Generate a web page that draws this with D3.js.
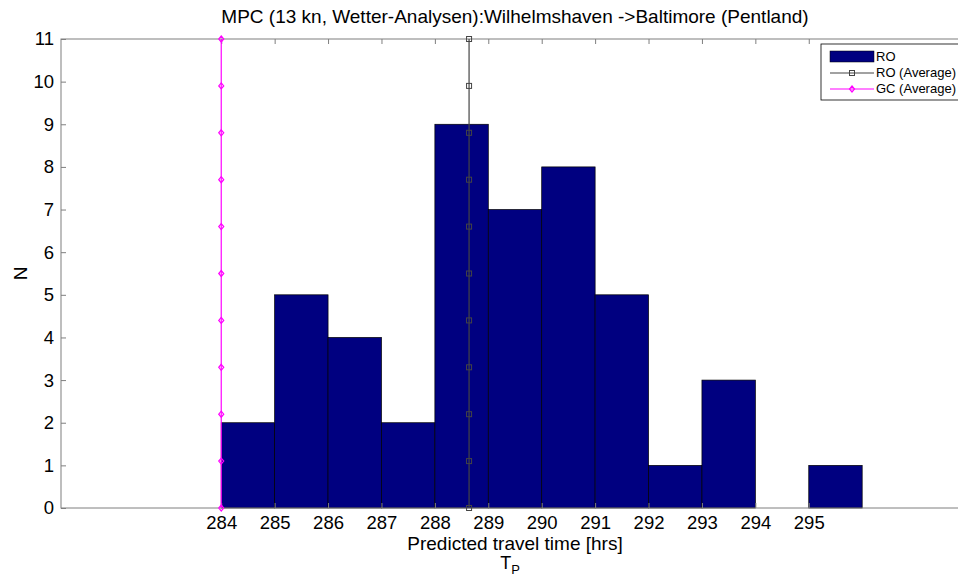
<!DOCTYPE html>
<html><head><meta charset="utf-8">
<script src="https://cdn.jsdelivr.net/npm/d3@7"></script>
<style>body{margin:0;background:#fff;}svg{display:block;font-family:"Liberation Sans",Arial,sans-serif;}</style>
</head><body>
<script>
// Data
const binStarts = [284,285,286,287,288,289,290,291,292,293,294,295];
const counts    = [2,5,4,2,9,7,8,5,1,3,0,1];
const xTicks = [284,285,286,287,288,289,290,291,292,293,294,295];
const yTicks = [0,1,2,3,4,5,6,7,8,9,10,11];
const roAverage = 288.64;
const gcAverage = 284.0;
const avgMarkerY = [0,1.1,2.2,3.3,4.4,5.5,6.6,7.7,8.8,9.9,11];
const legendLabels = ["RO","RO (Average)","GC (Average)"];
const title = "MPC (13 kn, Wetter-Analysen):Wilhelmshaven ->Baltimore (Pentland)";

const W=958,H=577;
const m={l:61,t:39,r:969,b:508};
const svg=d3.select("body").append("svg").attr("width",W).attr("height",H);
const x=d3.scaleLinear().domain([281,298]).range([m.l,m.r]);
const y=d3.scaleLinear().domain([0,11]).range([m.b,m.t]);
const axisColor="#7f7f7f";

// bars
svg.append("g").selectAll("rect").data(binStarts.map((s,i)=>({s,c:counts[i]})).filter(d=>d.c>0))
 .join("rect")
 .attr("x",d=>x(d.s)).attr("y",d=>y(d.c))
 .attr("width",d=>x(d.s+1)-x(d.s)).attr("height",d=>y(0)-y(d.c))
 .attr("fill","#000080").attr("stroke","#000").attr("stroke-width",0.7);

// axes frame
svg.append("rect").attr("x",m.l).attr("y",m.t).attr("width",m.r-m.l).attr("height",m.b-m.t)
 .attr("fill","none").attr("stroke",axisColor).attr("stroke-width",1);

const xb=d3.axisBottom(x).tickValues(xTicks).tickSize(-5).tickPadding(8).tickFormat(d3.format("d"));
const xt=d3.axisTop(x).tickValues(xTicks).tickSize(-5).tickFormat("");
const yl=d3.axisLeft(y).tickValues(yTicks).tickSize(-5).tickPadding(7).tickFormat(d3.format("d"));
function style(sel){sel.select(".domain").remove();sel.selectAll(".tick line").attr("stroke",axisColor);
 sel.selectAll("text").attr("fill","#000").style("font-size","18.5px").style("font-family","'Liberation Sans',Arial,sans-serif");}
svg.append("g").attr("transform",`translate(0,${m.b})`).call(xb).call(style);
svg.append("g").attr("transform",`translate(0,${m.t})`).call(xt).call(style);
svg.append("g").attr("transform",`translate(${m.l},0)`).call(yl).call(style);

// average lines
function avgLine(v,color,shape){
 const gg=svg.append("g");
 gg.append("line").attr("x1",x(v)).attr("x2",x(v)).attr("y1",y(0)).attr("y2",y(11))
  .attr("stroke",color).attr("stroke-width",1.2);
 avgMarkerY.forEach(my=>{
  if(shape==="sq") gg.append("rect").attr("x",x(v)-2.5).attr("y",y(my)-2.5).attr("width",5).attr("height",5)
     .attr("fill","none").attr("stroke",color).attr("stroke-width",1);
  else gg.append("path").attr("d",`M${x(v)},${y(my)-3}L${x(v)+2.5},${y(my)}L${x(v)},${y(my)+3}L${x(v)-2.5},${y(my)}Z`)
     .attr("fill","none").attr("stroke",color).attr("stroke-width",1.2);
 });
}
avgLine(roAverage,"#444","sq");
avgLine(gcAverage,"#ff00ff","di");

// title and labels
svg.append("text").attr("x",(m.l+m.r)/2).attr("y",23).attr("text-anchor","middle")
 .style("font-size","19px").text(title);
svg.append("text").attr("x",(m.l+m.r)/2).attr("y",550).attr("text-anchor","middle")
 .style("font-size","19px").text("Predicted travel time [hrs]");
const tp=svg.append("text").attr("x",(m.l+m.r)/2-5).attr("y",569).attr("text-anchor","middle").style("font-size","18px");
tp.append("tspan").text("T");
tp.append("tspan").attr("dy",5).style("font-size","13px").text("P");
svg.append("text").attr("transform",`translate(27,${(m.t+m.b)/2}) rotate(-90)`).attr("text-anchor","middle")
 .style("font-size","19px").text("N");

// legend
const lg=svg.append("g").attr("transform","translate(821,44)");
lg.append("rect").attr("width",150).attr("height",56).attr("fill","#fff").attr("stroke","#000").attr("stroke-width",0.8);
lg.append("rect").attr("x",9).attr("y",7).attr("width",44).attr("height",11).attr("fill","#000080").attr("stroke","#000").attr("stroke-width",0.5);
const items=[{c:"#444",s:"sq"},{c:"#ff00ff",s:"di"}];
items.forEach((it,i)=>{
 const yy=29+i*16;
 lg.append("line").attr("x1",9).attr("x2",53).attr("y1",yy).attr("y2",yy).attr("stroke",it.c).attr("stroke-width",1.2);
 if(it.s==="sq") lg.append("rect").attr("x",28.5).attr("y",yy-2.5).attr("width",5).attr("height",5).attr("fill","none").attr("stroke",it.c);
 else lg.append("path").attr("d",`M31,${yy-3}L33.5,${yy}L31,${yy+3}L28.5,${yy}Z`).attr("fill","none").attr("stroke",it.c).attr("stroke-width",1.2);
});
legendLabels.forEach((t,i)=>{
 lg.append("text").attr("x",55).attr("y",17+i*16).style("font-size","13px").text(t);
});
</script>
</body></html>
